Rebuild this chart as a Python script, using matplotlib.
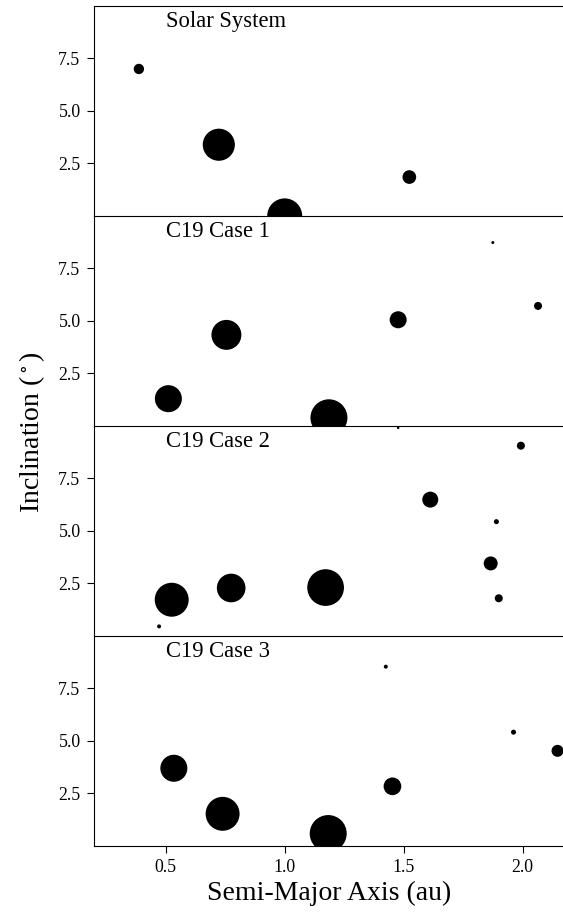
import matplotlib
matplotlib.use("Agg")
import matplotlib.pyplot as plt
import numpy as np

plt.rcParams['font.family'] = ['Liberation Serif', 'DejaVu Serif']
plt.rcParams['mathtext.fontset'] = 'stix'

panel_titles = ["Solar System", "C19 Case 1", "C19 Case 2", "C19 Case 3"]

# semi-major axis (au), inclination (deg), mass (Earth masses)
solar_a = [0.387, 0.723, 1.000, 1.524]
solar_i = [7.00, 3.39, 0.00, 1.85]
solar_m = [0.055, 0.815, 1.000, 0.107]

case1_a = [0.511, 0.755, 1.186, 1.477, 1.875, 2.065]
case1_i = [1.29, 4.33, 0.38, 5.05, 8.73, 5.71]
case1_m = [0.54, 0.69, 1.14, 0.18, 0.0029, 0.030]

case2_a = [0.472, 0.525, 0.775, 1.172, 1.477, 1.612, 1.866, 1.890, 1.900, 1.993]
case2_i = [0.44, 1.71, 2.27, 2.29, 9.90, 6.48, 3.44, 5.43, 1.78, 9.05]
case2_m = [0.0057, 0.93, 0.62, 1.12, 0.0019, 0.155, 0.113, 0.0098, 0.030, 0.030]

case3_a = [0.534, 0.739, 1.183, 1.425, 1.453, 1.962, 2.147]
case3_i = [3.68, 1.51, 0.57, 8.52, 2.82, 5.40, 4.51]
case3_m = [0.54, 0.93, 1.14, 0.0057, 0.197, 0.0098, 0.078]

panels = [(solar_a, solar_i, solar_m), (case1_a, case1_i, case1_m),
          (case2_a, case2_i, case2_m), (case3_a, case3_i, case3_m)]

W, H = 563, 914
fig = plt.figure(figsize=(W / 100, H / 100), dpi=100)
left = 94.4 / W
top_px, bot_px = 6.0, 845.5
ph = (bot_px - top_px) / 4

axes = []
for k, (a, inc, m) in enumerate(panels):
    y0 = 1 - (top_px + (k + 1) * ph) / H
    ax = fig.add_axes([left, y0, 1.0 - left, ph / H])
    s = 635 * np.power(np.array(m), 0.84)
    ax.scatter(a, inc, s=s, c='black', linewidths=0)
    ax.set_xlim(0.2, 2.17)
    ax.set_ylim(0, 10)
    ax.set_yticks([2.5, 5.0, 7.5])
    ax.spines['right'].set_visible(False)
    ax.tick_params(axis='y', labelsize=12.8, length=5, pad=5, width=0.8)
    ax.text(0.5, 9.0, panel_titles[k], fontsize=16.3, ha='left', va='baseline')
    if k < 3:
        ax.set_xticks([])
        ax.spines['bottom'].set_visible(False)
    else:
        ax.set_xticks([0.5, 1.0, 1.5, 2.0])
        ax.tick_params(axis='x', labelsize=12.8, length=5, pad=5, width=0.8)
        ax.set_xlabel('Semi-Major Axis (au)', fontsize=20, labelpad=3)
    axes.append(ax)

fig.text(31.7 / W, 1 - 432 / H, r'Inclination ($\,^{\circ}\,$)', fontsize=20,
         rotation=90, ha='center', va='center')

fig.savefig('out.png', dpi=100)
